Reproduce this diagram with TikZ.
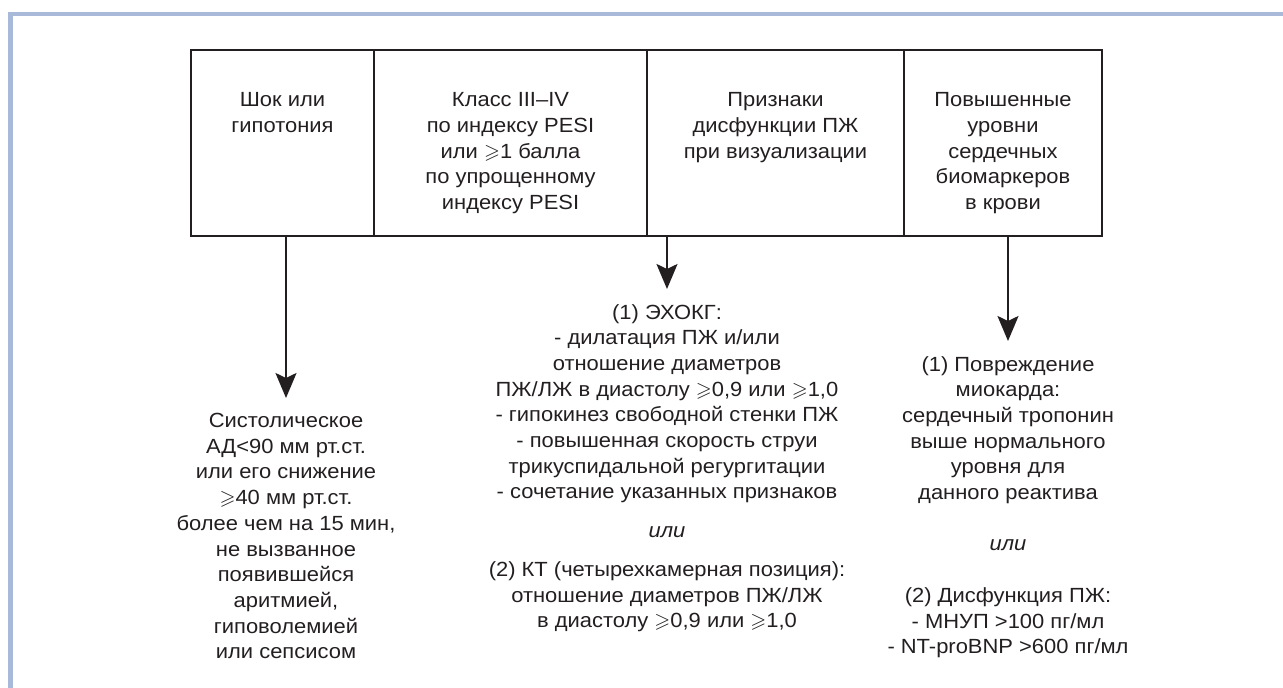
\documentclass[tikz,border=0pt]{standalone}
\usepackage{amssymb}
\usepackage{fontspec}
\setmainfont{Liberation Sans}[FakeStretch=1.07]
\usetikzlibrary{positioning,arrows.meta}
\definecolor{ink}{HTML}{231F20}
\definecolor{frameblue}{HTML}{A8B9DA}
\newcommand{\gsl}{$\geqslant$}
\begin{document}
\begin{tikzpicture}[x=1pt,y=-1pt,
    crit/.style={rectangle, draw=ink, line width=2pt, minimum height=186pt, inner sep=0pt, outer sep=0pt},
    crittext/.style={align=center, anchor=north, inner sep=0pt, text=ink, font=\fontsize{20.5}{25.7}\selectfont},
    arr/.style={draw=ink, line width=2pt, shorten >=15pt, -{Stealth[length=25pt, width=21pt, inset=5pt]}}]
    \useasboundingbox (0,0) rectangle (1283,688);
    \fill[frameblue] (8,12) rectangle (1283,16);
    \fill[frameblue] (8,12) rectangle (13,688);
    % criteria boxes
    \node[crit, minimum width=183pt] (shock) at (282.5,143) {};
    \node[crit, minimum width=273pt] (pesi) at (510.5,143) {};
    \node[crit, minimum width=257pt] (imaging) at (775.5,143) {};
    \node[crit, minimum width=198pt] (markers) at (1003,143) {};
    \node[crittext, below=42.5pt of shock.north] (shocktxt) {Шок или\\гипотония};
    \node[crittext, below=42.5pt of pesi.north] (pesitxt)
        {Класс III–IV\\по индексу PESI\\или \gsl1 балла\\по упрощенному\\индексу PESI};
    \node[crittext, below=42.5pt of imaging.north] (imagingtxt)
        {Признаки\\дисфункции ПЖ\\при визуализации};
    \node[crittext, below=42.5pt of markers.north] (markerstxt)
        {Повышенные\\уровни\\сердечных\\биомаркеров\\в крови};
    % details below
    \node[crittext] (shockdet) at (286,413)
        {Систолическое\\АД<90 мм рт.ст.\\или его снижение\\\gsl40 мм рт.ст.\\более чем на 15 мин,\\не вызванное\\появившейся\\аритмией,\\гиповолемией\\или сепсисом};
    \node[crittext] (echodet) at (667,304)
        {(1) ЭХОКГ:\\- дилатация ПЖ и/или\\отношение диаметров\\ПЖ/ЛЖ в диастолу \gsl0,9 или \gsl1,0\\- гипокинез свободной стенки ПЖ\\- повышенная скорость струи\\трикуспидальной регургитации\\- сочетание указанных признаков\\[13pt]\textit{или}\\[13pt](2) КТ (четырехкамерная позиция):\\отношение диаметров ПЖ/ЛЖ\\в диастолу \gsl0,9 или \gsl1,0};
    \node[crittext] (markersdet) at (1008,356)
        {(1) Повреждение\\миокарда:\\сердечный тропонин\\выше нормального\\уровня для\\данного реактива\\[25.7pt]\textit{или}\\[25.7pt](2) Дисфункция ПЖ:\\- МНУП >100 пг/мл\\- NT-proBNP >600 пг/мл};
    \draw[arr] (shock.south -| shockdet.north) -- (shockdet.north);
    \draw[arr] (imaging.south -| echodet.north) -- (echodet.north);
    \draw[arr] (markers.south -| markersdet.north) -- (markersdet.north);
\end{tikzpicture}
\end{document}
